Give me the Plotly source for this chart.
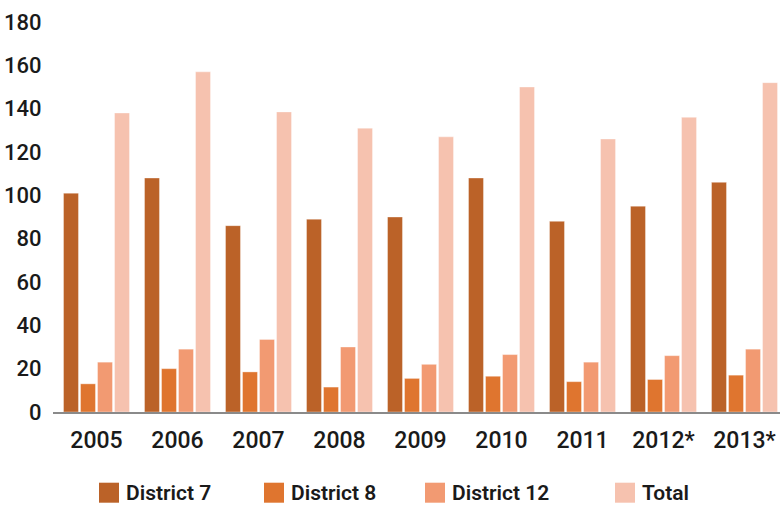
import plotly.graph_objects as go

years = ["2005", "2006", "2007", "2008", "2009", "2010", "2011", "2012*", "2013*"]
district_7 = [101, 108, 86, 89, 90, 108, 88, 95, 106]
district_8 = [13, 20, 18.5, 11.5, 15.5, 16.5, 14, 15, 17]
district_12 = [23, 29, 33.5, 30, 22, 26.5, 23, 26, 29]
total = [138, 157, 138.5, 131, 127, 150, 126, 136, 152]

series_names = ["District 7", "District 8", "District 12", "Total"]
series_values = [district_7, district_8, district_12, total]
series_colors = ["#BB6228", "#DF752F", "#F29A72", "#F6C2AF"]

fig = go.Figure()
for name, vals, color in zip(series_names, series_values, series_colors):
    fig.add_trace(go.Bar(
        x=years, y=vals, name=name,
        marker=dict(color=color, line=dict(width=0.6, color="rgba(255,255,255,0.6)")),
        showlegend=False,
    ))

# Custom legend row: large square swatches with bold labels
legend_x = [99, 264, 425, 615]
W, H = 780, 505
shapes = []
annotations = []
for lx, name, color in zip(legend_x, series_names, series_colors):
    shapes.append(dict(type="rect", xref="paper", yref="paper",
                       x0=(lx - 53) / (W - 53), x1=(lx + 20 - 53) / (W - 53),
                       y0=-(503 - 412.3) / 390, y1=-(483 - 412.3) / 390,
                       fillcolor=color, line=dict(width=0)))
    annotations.append(dict(text=name, xref="paper", yref="paper",
                            x=(lx + 25 - 53) / (W - 53), y=-(493 - 412.3) / 390,
                            xanchor="left", yanchor="middle", showarrow=False,
                            font=dict(family="Roboto", size=21, color="#1a1a1a", weight=600)))

fig.update_layout(
    width=W, height=H,
    margin=dict(l=53, r=0, t=22.3, b=92.7),
    plot_bgcolor="white", paper_bgcolor="white",
    barmode="group", bargap=0.16, bargroupgap=0.12,
    shapes=shapes, annotations=annotations,
    xaxis=dict(
        type="category", range=[-0.537, 8.438],
        showline=True, linecolor="#8a8a8a", linewidth=1.5,
        showgrid=False, ticks="outside", ticklen=7, tickcolor="rgba(0,0,0,0)",
        tickfont=dict(family="Roboto", size=23, color="#1a1a1a", weight=500),
    ),
    yaxis=dict(
        range=[0, 180], tickvals=list(range(0, 181, 20)),
        showline=False, showgrid=False, zeroline=False,
        ticks="outside", ticklen=6, tickcolor="rgba(0,0,0,0)",
        tickfont=dict(family="Roboto", size=22, color="#1a1a1a", weight=500),
    ),
)

fig.write_html("out.html")
